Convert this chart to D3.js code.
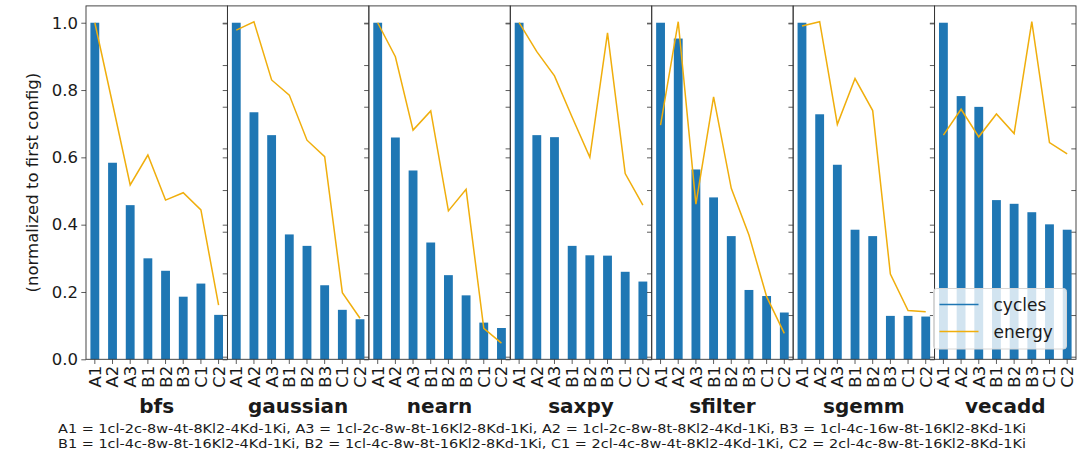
<!DOCTYPE html>
<html>
<head>
<meta charset="utf-8">
<script src="https://cdn.jsdelivr.net/npm/d3@7"></script>
<style>
  body { margin: 0; background: #fff; }
  svg text { font-family: "DejaVu Sans", sans-serif; fill: #1a1a1a; }
</style>
</head>
<body>
<svg id="chart" width="1079" height="455"></svg>
<script>
// Chart data
const benchmarks = ['bfs', 'gaussian', 'nearn', 'saxpy', 'sfilter', 'sgemm', 'vecadd'];
const configs = ['A1', 'A2', 'A3', 'B1', 'B2', 'B3', 'C1', 'C2'];

// cycles, normalized to A1 (one row per benchmark)
const cycles = [
    [1.0, 0.584, 0.458, 0.300, 0.263, 0.186, 0.225, 0.132],
    [1.0, 0.734, 0.666, 0.371, 0.337, 0.220, 0.147, 0.119],
    [1.0, 0.659, 0.561, 0.347, 0.250, 0.190, 0.109, 0.093],
    [1.0, 0.666, 0.660, 0.337, 0.309, 0.308, 0.260, 0.231],
    [1.0, 0.953, 0.564, 0.481, 0.366, 0.206, 0.188, 0.139],
    [1.0, 0.728, 0.578, 0.385, 0.366, 0.129, 0.129, 0.127],
    [1.0, 0.782, 0.750, 0.473, 0.462, 0.437, 0.401, 0.385]
];

// energy, normalized
const energy = [
    [1.0, 0.760, 0.518, 0.607, 0.473, 0.495, 0.444, 0.161],
    [0.978, 1.003, 0.830, 0.785, 0.651, 0.602, 0.198, 0.122],
    [1.0, 0.899, 0.681, 0.738, 0.441, 0.505, 0.092, 0.048],
    [1.0, 0.914, 0.842, 0.719, 0.600, 0.970, 0.552, 0.458],
    [0.696, 1.003, 0.461, 0.780, 0.508, 0.369, 0.186, 0.077],
    [0.990, 1.003, 0.698, 0.834, 0.739, 0.253, 0.145, 0.141],
    [0.666, 0.743, 0.661, 0.729, 0.671, 1.003, 0.644, 0.610]
];

const yTickValues = [0, 0.2, 0.4, 0.6, 0.8, 1.0];
const footnote = [
    'A1 = 1cl-2c-8w-4t-8Kl2-4Kd-1Ki, A3 = 1cl-2c-8w-8t-16Kl2-8Kd-1Ki, A2 = 1cl-2c-8w-8t-8Kl2-4Kd-1Ki, B3 = 1cl-4c-16w-8t-16Kl2-8Kd-1Ki',
    'B1 = 1cl-4c-8w-8t-16Kl2-4Kd-1Ki, B2 = 1cl-4c-8w-8t-16Kl2-8Kd-1Ki, C1 = 2cl-4c-8w-4t-8Kl2-4Kd-1Ki, C2 = 2cl-4c-8w-8t-16Kl2-8Kd-1Ki'
];

// Layout
const plotLeft = 86, plotRight = 1076, plotTop = 5.9, plotBottom = 359.3;
const panelW = (plotRight - plotLeft) / benchmarks.length;
const barColor = '#1f77b4';
const lineColor = '#f0ae0c';
const spineColor = '#333';

const svg = d3.select('#chart');

const y = d3.scaleLinear().domain([0, 1.05]).range([plotBottom, plotTop]);
// secondary (energy) axis ticks seen on the right spine of each panel
const yTwin = d3.scaleLinear().domain([0, 1.684]).range([plotBottom - 2.6, plotTop]);

const panelX = d3.scaleBand().domain(benchmarks).range([plotLeft, plotRight]);

benchmarks.forEach((name, i) => {
    const x0 = panelX(name);
    const x = d3.scaleBand()
        .domain(configs)
        .range([x0, x0 + panelW])
        .paddingInner(0.5)
        .paddingOuter(0.25);

    const g = svg.append('g').attr('class', 'panel');

    // bars
    g.selectAll('rect.bar')
        .data(cycles[i])
        .enter()
        .append('rect')
        .attr('class', 'bar')
        .attr('x', (d, j) => x(configs[j]))
        .attr('width', x.bandwidth())
        .attr('y', d => y(d))
        .attr('height', d => y(0) - y(d))
        .attr('fill', barColor);

    // energy line
    const line = d3.line()
        .x((d, j) => x(configs[j]) + x.bandwidth() / 2)
        .y(d => y(d));
    g.append('path')
        .datum(energy[i])
        .attr('d', line)
        .attr('fill', 'none')
        .attr('stroke', lineColor)
        .attr('stroke-width', 1.5);

    // x axis with rotated labels
    const xAxis = g.append('g')
        .attr('transform', `translate(0,${plotBottom})`)
        .call(d3.axisBottom(x).tickSize(4.7).tickSizeOuter(0));
    xAxis.select('.domain').remove();
    xAxis.selectAll('line').attr('stroke', spineColor).attr('stroke-width', 0.8);
    xAxis.selectAll('text')
        .attr('transform', 'rotate(-90)')
        .attr('text-anchor', 'end')
        .attr('x', -6.5)
        .attr('y', 0)
        .attr('dy', '0.36em')
        .style('font-size', '16.5px')
        .style('font-family', '"DejaVu Sans", sans-serif')
        .attr('fill', '#1a1a1a');

    // y axis (labels only on first panel)
    const yAxis = g.append('g')
        .attr('transform', `translate(${x0},0)`)
        .call(d3.axisLeft(y).tickValues(yTickValues).tickSize(4.7)
            .tickFormat(i === 0 ? d3.format('.1f') : ''));
    yAxis.select('.domain').remove();
    yAxis.selectAll('line').attr('stroke', spineColor).attr('stroke-width', 0.8);
    yAxis.selectAll('text')
        .style('font-size', '16.5px')
        .style('font-family', '"DejaVu Sans", sans-serif')
        .attr('fill', '#1a1a1a')
        .attr('x', -8);

    // twin axis ticks on the right spine
    const twin = g.append('g')
        .attr('transform', `translate(${x0 + panelW},0)`)
        .call(d3.axisLeft(yTwin).ticks(8).tickSize(4.7).tickFormat(''));
    twin.select('.domain').remove();
    twin.selectAll('line').attr('stroke', spineColor).attr('stroke-width', 0.8);

    // frame
    g.append('rect')
        .attr('x', x0)
        .attr('y', plotTop)
        .attr('width', panelW)
        .attr('height', plotBottom - plotTop)
        .attr('fill', 'none')
        .attr('stroke', spineColor)
        .attr('stroke-width', 0.9);

    // benchmark name
    svg.append('text')
        .attr('x', x0 + panelW / 2)
        .attr('y', 413)
        .attr('text-anchor', 'middle')
        .style('font-size', '20px')
        .style('font-weight', 'bold')
        .text(name);
});

// y axis title
svg.append('text')
    .attr('transform', `translate(38,${(plotTop + plotBottom) / 2}) rotate(-90)`)
    .attr('text-anchor', 'middle')
    .style('font-size', '16.5px')
    .text('(normalized to first config)');

// legend inside the last panel
const legend = svg.append('g').attr('transform', 'translate(933.5,288.5)');
legend.append('rect')
    .attr('width', 133)
    .attr('height', 60.5)
    .attr('rx', 3)
    .attr('fill', 'rgba(255,255,255,0.8)')
    .attr('stroke', '#d6d6d6');
const legendItems = [
    { label: 'cycles', color: barColor },
    { label: 'energy', color: lineColor }
];
legendItems.forEach((item, k) => {
    const ly = 16 + k * 27;
    legend.append('line')
        .attr('x1', 6).attr('x2', 45)
        .attr('y1', ly).attr('y2', ly)
        .attr('stroke', item.color)
        .attr('stroke-width', 1.5);
    legend.append('text')
        .attr('x', 60)
        .attr('y', ly)
        .attr('dy', '0.36em')
        .style('font-size', '17px')
        .text(item.label);
});

// configuration footnote
footnote.forEach((t, k) => {
    svg.append('text')
        .attr('x', 58)
        .attr('y', 433 + k * 14.5)
        .attr('textLength', 968)
        .attr('lengthAdjust', 'spacingAndGlyphs')
        .style('font-size', '13px')
        .text(t);
});
</script>
</body>
</html>
